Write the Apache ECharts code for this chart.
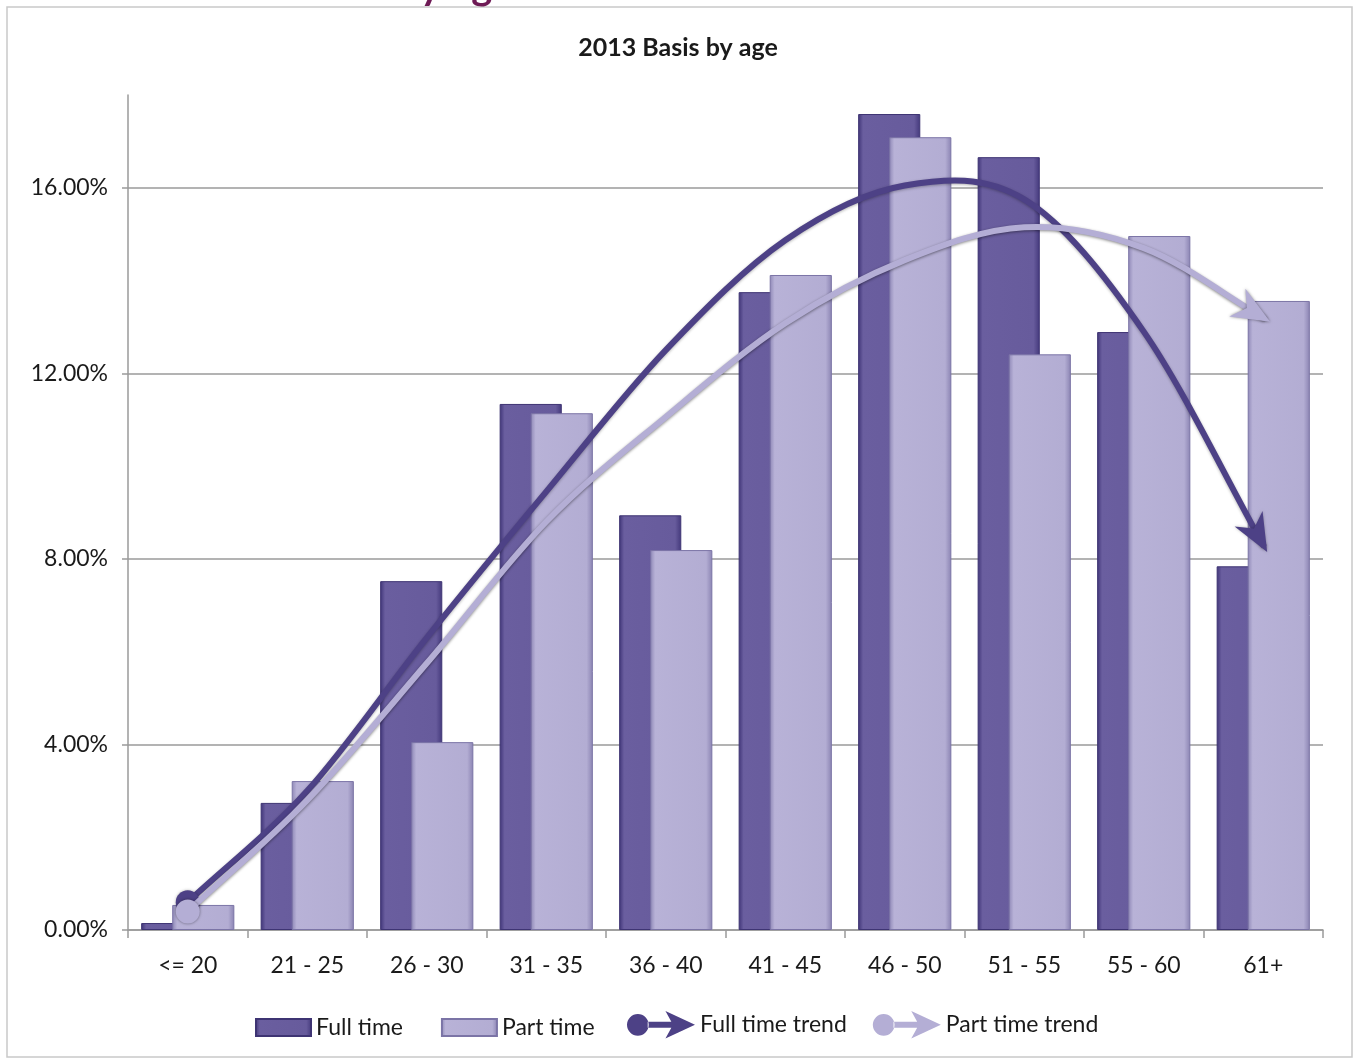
<!DOCTYPE html>
<html>
<head>
<meta charset="utf-8">
<script src="https://cdn.jsdelivr.net/npm/echarts@6/dist/echarts.min.js"></script>
<style>
html,body{margin:0;padding:0;background:#fff;}
#chart{width:1356px;height:1060px;}
</style>
</head>
<body>
<div id="chart"></div>
<script>
var categories = ['<= 20','21 - 25','26 - 30','31 - 35','36 - 40','41 - 45','46 - 50','51 - 55','55 - 60','61+'];
var fullTime = [0.15, 2.74, 7.52, 11.34, 8.94, 13.75, 17.59, 16.66, 12.89, 7.84];
var partTime = [0.54, 3.21, 4.05, 11.14, 8.19, 14.12, 17.09, 12.41, 14.96, 13.56];
var fullTrend = [0.6, 3.0, 6.3, 9.45, 12.5, 14.87, 16.05, 15.75, 12.9, 8.3];
var partTrend = [0.4, 2.8, 5.75, 8.8, 11.06, 13.08, 14.44, 15.15, 14.7, 13.2];
var yTicks = [0, 4, 8, 12, 16];

var FONT = 'Lato, "Open Sans", sans-serif';
var fullColor = '#4d4186';
var partColor = '#b4aed5';

var trendIcon = 'path://M12,4 A11,11 0 1,0 12,26 A11,11 0 1,0 12,4 Z M22,12 L46,12 L40,1 L70,15 L40,29 L46,18 L22,18 Z';

// Smooth curve through the trend values (positions come from the chart's own axes via api.coord)
function trendRenderer(vals, color, shadowColor) {
  return function (params, api) {
    if (params.dataIndex !== 0) return null;
    var pts = vals.map(function (v, i) { return api.coord([i, v]); });
    var n = pts.length;
    var first = [2 * pts[0][0] - pts[1][0], 2 * pts[0][1] - pts[1][1]];
    var last = [2 * pts[n - 1][0] - pts[n - 2][0], 2 * pts[n - 1][1] - pts[n - 2][1]];
    var ext = [first].concat(pts, [last]);
    var d = 'M' + pts[0][0] + ' ' + pts[0][1];
    var c2 = null;
    for (var i = 0; i < n - 1; i++) {
      var p0 = ext[i], p1 = ext[i + 1], p2 = ext[i + 2], p3 = ext[i + 3];
      var c1 = [p1[0] + (p2[0] - p0[0]) / 6, p1[1] + (p2[1] - p0[1]) / 6];
      c2 = [p2[0] - (p3[0] - p1[0]) / 6, p2[1] - (p3[1] - p1[1]) / 6];
      d += ' C' + c1[0] + ' ' + c1[1] + ' ' + c2[0] + ' ' + c2[1] + ' ' + p2[0] + ' ' + p2[1];
    }
    var e = pts[n - 1];
    var ux = e[0] - c2[0], uy = e[1] - c2[1];
    var len = Math.sqrt(ux * ux + uy * uy) || 1;
    ux /= len; uy /= len;
    var nx = -uy, ny = ux;
    var tip = [e[0] + ux * 8, e[1] + uy * 8];
    var bl = [e[0] - ux * 30 + nx * 16, e[1] - uy * 30 + ny * 16];
    var notch = [e[0] - ux * 19, e[1] - uy * 19];
    var br = [e[0] - ux * 30 - nx * 16, e[1] - uy * 30 - ny * 16];
    return {
      type: 'group',
      children: [
        {type: 'path', shape: {pathData: d}, style: {fill: 'none', stroke: color, lineWidth: 6, lineCap: 'round', shadowColor: shadowColor, shadowBlur: 3, shadowOffsetY: 1}},
        {type: 'circle', shape: {cx: pts[0][0], cy: pts[0][1], r: 12}, style: {fill: color, shadowColor: shadowColor, shadowBlur: 3}},
        {type: 'polygon', shape: {points: [tip, bl, notch, br]}, style: {fill: color, shadowColor: shadowColor, shadowBlur: 3}}
      ]
    };
  };
}

var chart = echarts.init(document.getElementById('chart'));
chart.setOption({
  animation: false,
  backgroundColor: '#ffffff',
  title: {
    text: '2013 Basis by age',
    left: 'center',
    top: 30,
    textStyle: {fontFamily: FONT, fontSize: 25, fontWeight: 'bold', color: '#1a1a1a'}
  },
  graphic: [
    {type: 'rect', shape: {x: 7, y: 7, width: 1345, height: 1050}, style: {fill: 'none', stroke: '#c9c9c9', lineWidth: 1.5}, silent: true, z: -10},
    {type: 'text', left: 398, top: -34, style: {text: 'by age', fontFamily: FONT, fontSize: 40, fontWeight: 'bold', fill: '#6e1a55'}, silent: true}
  ],
  legend: [
    {
      data: ['Full time', 'Part time'],
      left: 250, top: 1011,
      itemWidth: 55, itemHeight: 17, itemGap: 38,
      icon: 'rect',
      textStyle: {fontFamily: FONT, fontSize: 23, color: '#1a1a1a'}
    },
    {
      data: [{name: 'Full time trend', icon: trendIcon}, {name: 'Part time trend', icon: trendIcon}],
      left: 622, top: 1006,
      itemWidth: 68, itemHeight: 34, itemGap: 26,
      textStyle: {fontFamily: FONT, fontSize: 23, color: '#1a1a1a'}
    }
  ],
  grid: {left: 128, right: 33, top: 95, bottom: 130, containLabel: false},
  xAxis: {
    type: 'category',
    data: categories,
    axisLine: {lineStyle: {color: '#9a9a9a', width: 1.5}},
    axisTick: {show: true, length: 8, lineStyle: {color: '#9a9a9a', width: 1.5}},
    axisLabel: {fontFamily: FONT, fontSize: 23, color: '#1a1a1a', margin: 24}
  },
  yAxis: {
    type: 'value',
    min: 0, max: 18, interval: 4,
    axisLine: {show: true, lineStyle: {color: '#9a9a9a', width: 1.5}},
    axisTick: {show: true, length: 6, lineStyle: {color: '#9a9a9a', width: 1.5}},
    axisLabel: {
      fontFamily: FONT, fontSize: 23, color: '#1a1a1a', margin: 20,
      showMaxLabel: false,
      formatter: function (v) { return yTicks.indexOf(v) >= 0 ? v.toFixed(2) + '%' : ''; }
    },
    splitLine: {show: true, lineStyle: {color: ['#9a9a9a', '#9a9a9a', '#9a9a9a', '#9a9a9a', '#9a9a9a', 'rgba(0,0,0,0)'], width: 1.5}}
  },
  series: [
    {
      name: 'Full time',
      type: 'bar',
      data: fullTime,
      barWidth: '52%',
      barGap: '-50%',
      itemStyle: {
        color: new echarts.graphic.LinearGradient(0, 0, 1, 0, [
          {offset: 0, color: '#3f3477'},
          {offset: 0.08, color: '#6a5e9f'},
          {offset: 0.9, color: '#675b9c'},
          {offset: 1, color: '#43387b'}
        ]),
        borderColor: '#3e3473', borderWidth: 1
      }
    },
    {
      name: 'Part time',
      type: 'bar',
      data: partTime,
      barWidth: '52%',
      barGap: '-50%',
      itemStyle: {
        color: new echarts.graphic.LinearGradient(0, 0, 1, 0, [
          {offset: 0, color: '#8e87b6'},
          {offset: 0.08, color: '#b8b2d7'},
          {offset: 0.9, color: '#b3add3'},
          {offset: 1, color: '#8a83b2'}
        ]),
        borderColor: '#7b74a6', borderWidth: 1
      }
    },
    {
      name: 'Full time trend',
      type: 'custom',
      data: fullTrend.map(function (v, i) { return [i, v]; }),
      encode: {x: 0, y: 1},
      renderItem: trendRenderer(fullTrend, fullColor, 'rgba(0,0,0,0.3)'),
      itemStyle: {color: fullColor},
      z: 5
    },
    {
      name: 'Part time trend',
      type: 'custom',
      data: partTrend.map(function (v, i) { return [i, v]; }),
      encode: {x: 0, y: 1},
      renderItem: trendRenderer(partTrend, partColor, 'rgba(0,0,0,0.45)'),
      itemStyle: {color: partColor},
      z: 6
    }
  ]
});
</script>
</body>
</html>
